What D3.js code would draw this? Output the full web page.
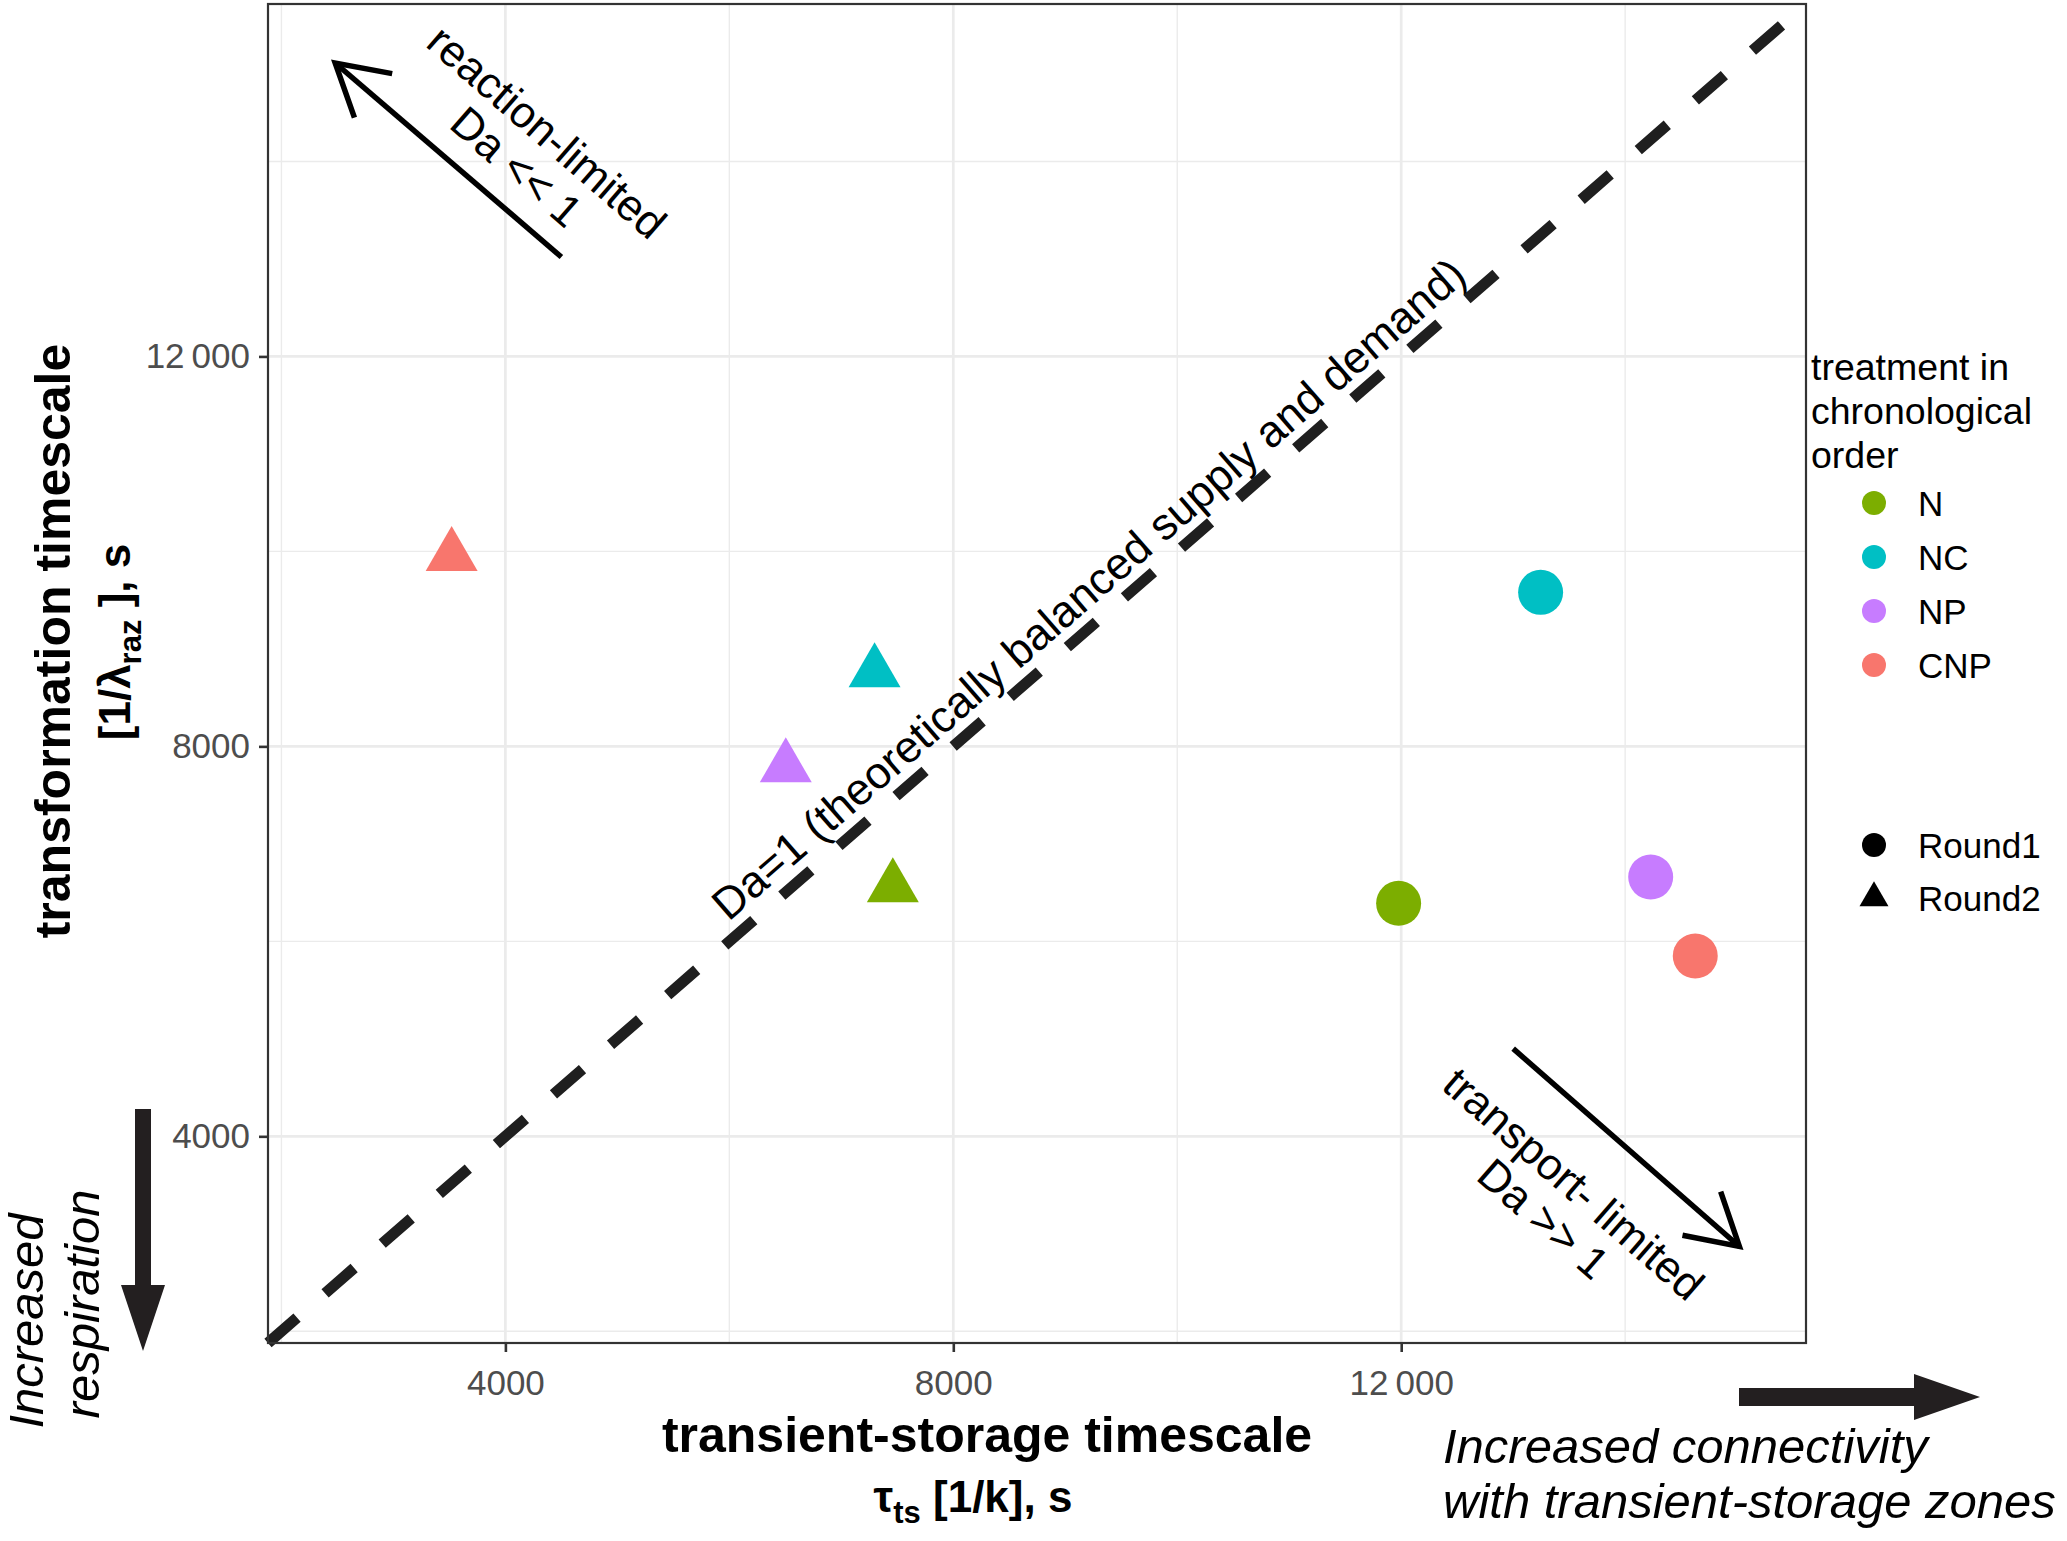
<!DOCTYPE html>
<html>
<head>
<meta charset="utf-8">
<script src="https://cdn.jsdelivr.net/npm/d3@7"></script>
<style>
  body { margin: 0; background: #fff; }
  svg { display: block; font-family: 'Liberation Sans', Arial, Helvetica, sans-serif; }
</style>
</head>
<body>
<svg id="chart" width="2067" height="1541"></svg>
<script>
// treatments in chronological order
const treatments = ['N', 'NC', 'NP', 'CNP']
const treatmentColors = ['#7CAE00', '#00BFC4', '#C77CFF', '#F8766D']
const rounds = ['Round1', 'Round2']

// transient-storage timescale (x) and transformation timescale (y), s
const round1Tts = [11977, 13245, 14228, 14626]
const round1Traz = [6390, 9580, 6660, 5850]
const round2Tts = [7460, 7297, 6504, 3520]
const round2Traz = [6554, 8760, 7785, 9953]

const tickValues = [4000, 8000, 12000]
const tickLabels = ['4000', '8000', '12\u2009000']
const minorTicks = [2000, 6000, 10000, 14000]
const axisDomain = [1880, 15615]

// annotations, in data units
const arrowFrom = [[4500, 13020], [13000, 4900]]
const arrowTo = [[2480, 15010], [15020, 2870]]
const regimeLabels = [['reaction-limited', 'Da << 1'], ['transport- limited', 'Da >> 1']]
const regimeLabelPos = [[4240, 14130], [13410, 3340]]
const balanceLabel = 'Da=1 (theoretically balanced supply and demand)'
const balanceLabelPos = [9203, 9620]

const panel = { left: 268, top: 4, right: 1806, bottom: 1343 }
const ink = '#231f20'

let svg = d3.select('#chart')

let x = d3.scaleLinear().domain(axisDomain).range([panel.left, panel.right])
let y = d3.scaleLinear().domain(axisDomain).range([panel.bottom, panel.top])

// grid
let grid = svg.append('g').attr('stroke', '#ebebeb')
grid.selectAll('.vminor').data(minorTicks).enter().append('line')
    .attr('x1', d => x(d)).attr('x2', d => x(d))
    .attr('y1', panel.top).attr('y2', panel.bottom)
    .attr('stroke-width', 1.4)
grid.selectAll('.hminor').data(minorTicks).enter().append('line')
    .attr('y1', d => y(d)).attr('y2', d => y(d))
    .attr('x1', panel.left).attr('x2', panel.right)
    .attr('stroke-width', 1.4)
grid.selectAll('.vmajor').data(tickValues).enter().append('line')
    .attr('x1', d => x(d)).attr('x2', d => x(d))
    .attr('y1', panel.top).attr('y2', panel.bottom)
    .attr('stroke-width', 2.7)
grid.selectAll('.hmajor').data(tickValues).enter().append('line')
    .attr('y1', d => y(d)).attr('y2', d => y(d))
    .attr('x1', panel.left).attr('x2', panel.right)
    .attr('stroke-width', 2.7)

// Da = 1 line (y = x)
svg.append('line')
    .attr('x1', x(axisDomain[0])).attr('y1', y(axisDomain[0]))
    .attr('x2', x(axisDomain[1])).attr('y2', y(axisDomain[1]))
    .attr('stroke', '#1f1f1f')
    .attr('stroke-width', 11)
    .attr('stroke-dasharray', '38.5,37.2')

// points
let points = []
treatments.forEach((t, i) => {
    points.push({ t: t, color: treatmentColors[i], round: 0, x: round1Tts[i], y: round1Traz[i] })
    points.push({ t: t, color: treatmentColors[i], round: 1, x: round2Tts[i], y: round2Traz[i] })
})
let bigCircle = d3.symbol().type(d3.symbolCircle).size(Math.PI * 22.5 * 22.5)
let bigTriangle = d3.symbol().type(d3.symbolTriangle).size(1169)

svg.append('g').selectAll('path')
    .data(points).enter().append('path')
    .attr('d', d => d.round === 0 ? bigCircle() : bigTriangle())
    .attr('transform', d => `translate(${x(d.x)},${y(d.y)})`)
    .attr('fill', d => d.color)
    .append('title')
    .text(d => d.t + ' ' + rounds[d.round])

// line arrows with open heads
function lineArrow(from, to) {
    let x0 = x(from[0]), y0 = y(from[1]), x1 = x(to[0]), y1 = y(to[1])
    let a = Math.atan2(y1 - y0, x1 - x0)
    let hl = 58, spread = Math.PI / 6
    let g = svg.append('g').attr('stroke', '#000').attr('stroke-width', 5.5).attr('fill', 'none')
    g.append('line').attr('x1', x0).attr('y1', y0).attr('x2', x1).attr('y2', y1)
    let p = d3.path()
    p.moveTo(x1 - hl * Math.cos(a - spread), y1 - hl * Math.sin(a - spread))
    p.lineTo(x1, y1)
    p.lineTo(x1 - hl * Math.cos(a + spread), y1 - hl * Math.sin(a + spread))
    g.append('path').attr('d', p.toString()).attr('stroke-linejoin', 'miter')
}
arrowFrom.forEach((f, i) => lineArrow(f, arrowTo[i]))

// regime labels
regimeLabels.forEach((lines, i) => {
    let g = svg.append('g')
        .attr('transform', `translate(${x(regimeLabelPos[i][0])},${y(regimeLabelPos[i][1])}) rotate(41)`)
    g.selectAll('text').data(lines).enter().append('text')
        .attr('text-anchor', 'middle')
        .attr('y', (d, j) => (j - (lines.length - 1) / 2) * 46 + 16)
        .attr('font-size', 44)
        .attr('fill', '#000')
        .text(d => d)
})

svg.append('text')
    .attr('transform', `translate(${x(balanceLabelPos[0])},${y(balanceLabelPos[1])}) rotate(-41)`)
    .attr('text-anchor', 'middle')
    .attr('y', 16)
    .attr('font-size', 44.5)
    .attr('fill', '#000')
    .text(balanceLabel)

// panel border
svg.append('rect')
    .attr('x', panel.left).attr('y', panel.top)
    .attr('width', panel.right - panel.left).attr('height', panel.bottom - panel.top)
    .attr('fill', 'none').attr('stroke', '#333').attr('stroke-width', 2.2)

// axes
let fmt = d => tickLabels[tickValues.indexOf(d)]
let xAxis = svg.append('g')
    .attr('transform', `translate(0,${panel.bottom})`)
    .call(d3.axisBottom(x).tickValues(tickValues).tickFormat(fmt).tickSize(9).tickPadding(18))
let yAxis = svg.append('g')
    .attr('transform', `translate(${panel.left},0)`)
    .call(d3.axisLeft(y).tickValues(tickValues).tickFormat(fmt).tickSize(9).tickPadding(9))
;[xAxis, yAxis].forEach(ax => {
    ax.select('.domain').remove()
    ax.attr('font-family', null).attr('font-size', null)
    ax.selectAll('.tick line').attr('stroke', '#333').attr('stroke-width', 2.6)
    ax.selectAll('.tick text').attr('fill', '#4d4d4d').attr('font-size', 35)
})

// axis titles
svg.append('text')
    .attr('x', 987).attr('y', 1452)
    .attr('text-anchor', 'middle')
    .attr('font-size', 50).attr('font-weight', 'bold')
    .text('transient-storage timescale')
let xt2 = svg.append('text')
    .attr('x', 973).attr('y', 1512)
    .attr('text-anchor', 'middle')
    .attr('font-size', 44).attr('font-weight', 'bold')
xt2.append('tspan').text('\u03c4')
xt2.append('tspan').attr('font-size', 31).attr('dy', 11).text('ts')
xt2.append('tspan').attr('dy', -11).text(' [1/k], s')

svg.append('text')
    .attr('transform', 'translate(70,641) rotate(-90)')
    .attr('text-anchor', 'middle')
    .attr('font-size', 50).attr('font-weight', 'bold')
    .text('transformation timescale')
let yt2 = svg.append('text')
    .attr('transform', 'translate(130,642) rotate(-90)')
    .attr('text-anchor', 'middle')
    .attr('font-size', 44).attr('font-weight', 'bold')
yt2.append('tspan').text('[1/\u03bb')
yt2.append('tspan').attr('font-size', 31).attr('dy', 11).text('raz')
yt2.append('tspan').attr('dy', -11).text(' ], s')

// legend
let legend = svg.append('g')
legend.selectAll('.ltitle').data(['treatment in', 'chronological', 'order']).enter().append('text')
    .attr('x', 1811).attr('y', (d, i) => 380 + i * 44)
    .attr('font-size', 37.5).attr('fill', '#000')
    .text(d => d)
let keyCircle = d3.symbol().type(d3.symbolCircle).size(Math.PI * 12 * 12)
let keyTriangle = d3.symbol().type(d3.symbolTriangle).size(364)
treatments.forEach((t, i) => {
    let cy = 503 + i * 54
    legend.append('path').attr('d', keyCircle())
        .attr('transform', `translate(1874,${cy})`).attr('fill', treatmentColors[i])
    legend.append('text').attr('x', 1918).attr('y', cy + 12.5)
        .attr('font-size', 35).attr('fill', '#000').text(t)
})
rounds.forEach((r, i) => {
    let cy = 845 + i * 53
    legend.append('path').attr('d', i === 0 ? keyCircle() : keyTriangle())
        .attr('transform', `translate(1874,${cy})`).attr('fill', '#000')
    legend.append('text').attr('x', 1918).attr('y', cy + 12.5)
        .attr('font-size', 35).attr('fill', '#000').text(r)
})

// block arrows outside the panel
function blockArrow(x0, y0, x1, y1, bodyW, headW, headL) {
    let len = Math.hypot(x1 - x0, y1 - y0)
    let a = Math.atan2(y1 - y0, x1 - x0) * 180 / Math.PI
    let b = len - headL
    let pts = [[0, -bodyW / 2], [b, -bodyW / 2], [b, -headW / 2], [len, 0],
        [b, headW / 2], [b, bodyW / 2], [0, bodyW / 2]]
    svg.append('polygon')
        .attr('points', pts.map(p => p.join(',')).join(' '))
        .attr('transform', `translate(${x0},${y0}) rotate(${a})`)
        .attr('fill', ink)
}
blockArrow(143, 1109, 143, 1351, 16, 44, 66)
blockArrow(1739, 1397, 1980, 1397, 18, 46, 66)

svg.append('text')
    .attr('x', 1443).attr('y', 1463)
    .attr('font-size', 49).attr('font-style', 'italic').attr('fill', '#000')
    .text('Increased connectivity')
svg.append('text')
    .attr('x', 1443).attr('y', 1518)
    .attr('font-size', 49).attr('font-style', 'italic').attr('fill', '#000')
    .text('with transient-storage zones')
svg.append('text')
    .attr('transform', 'translate(43,1321) rotate(-90)')
    .attr('text-anchor', 'middle')
    .attr('font-size', 49).attr('font-style', 'italic').attr('fill', '#000')
    .text('Increased')
svg.append('text')
    .attr('transform', 'translate(99,1304) rotate(-90)')
    .attr('text-anchor', 'middle')
    .attr('font-size', 49).attr('font-style', 'italic').attr('fill', '#000')
    .text('respiration')
</script>
</body>
</html>
